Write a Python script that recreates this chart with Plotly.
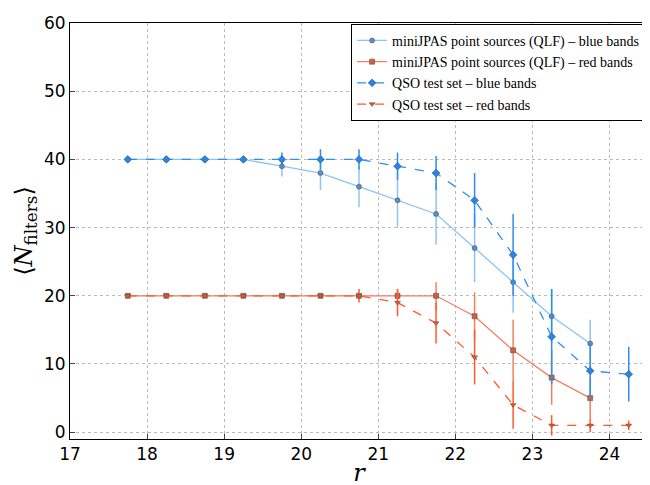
import plotly.graph_objects as go

r = [17.75, 18.25, 18.75, 19.25, 19.75, 20.25, 20.75, 21.25, 21.75, 22.25, 22.75, 23.25, 23.75, 24.25]

qlf_blue = [40, 40, 40, 40, 39, 38, 36, 34, 32, 27, 22, 17, 13]
qlf_blue_err = [0, 0, 0, 0.3, 1.5, 2.5, 3, 4, 4.5, 5, 4.5, 4, 3.5]
qlf_red = [20, 20, 20, 20, 20, 20, 20, 20, 20, 17, 12, 8, 5]
qlf_red_err = [0, 0, 0, 0, 0, 0, 0.5, 1, 2, 3.5, 4.5, 4, 3]

qso_blue = [40, 40, 40, 40, 40, 40, 40, 39, 38, 34, 26, 14, 9, 8.5]
qso_blue_err = [0, 0, 0, 0.5, 1, 1.5, 1.5, 2, 2.5, 4, 6, 7, 4, 4]
qso_red = [20, 20, 20, 20, 20, 20, 20, 19, 16, 11, 4, 1, 1, 1]
qso_red_err = [0, 0, 0, 0, 0, 0, 1, 2, 3, 4, 3.5, 1.5, 1, 0.7]

fig = go.Figure()


def add(y, err, name, color, mcolor, symbol, dash, size):
    fig.add_trace(go.Scatter(
        x=r[:len(y)], y=y, name=name, mode="lines+markers",
        line=dict(color=color, width=1.3, dash=dash),
        marker=dict(symbol=symbol, size=size, color=mcolor, line=dict(color="#555", width=0.6)),
        error_y=dict(type="data", array=err, color=color, thickness=1.5, width=0),
    ))


add(qlf_blue, qlf_blue_err, "miniJPAS point sources (QLF) – blue bands", "#8cc4f5", "#5e8fc0", "circle", "solid", 5)
add(qlf_red, qlf_red_err, "miniJPAS point sources (QLF) – red bands", "#f0805e", "#d0603e", "square", "solid", 5)
add(qso_blue, qso_blue_err, "QSO test set – blue bands", "#2a8ff0", "#1e88f0", "diamond", "dash", 6)
add(qso_red, qso_red_err, "QSO test set – red bands", "#ff5a28", "#ff5020", "triangle-down", "dash", 5)

axis = dict(showgrid=True, gridcolor="#bbb", griddash="dot", showline=True, linecolor="black",
            mirror=True, ticks="inside", ticklen=5, zeroline=False,
            tickfont=dict(size=17, family="DejaVu Sans"))
fig.update_xaxes(range=[17, 24.5], dtick=1, title=dict(text="<i>r</i>", font=dict(size=24), standoff=0), **axis)
fig.update_yaxes(range=[-1, 60], tickvals=[0, 10, 20, 30, 40, 50, 60],
                 title=dict(text="⟨<i>N</i><sub>filters</sub>⟩", font=dict(size=24), standoff=4), **axis)
fig.update_layout(
    width=650, height=485, margin=dict(l=62, r=10, t=15, b=54, autoexpand=False),
    plot_bgcolor="white", paper_bgcolor="white",
    font=dict(family="DejaVu Serif", color="black"),
    legend=dict(x=0.995, y=0.998, xanchor="right", yanchor="top", bordercolor="black", borderwidth=1,
                bgcolor="white", font=dict(size=14, family="Liberation Serif"), tracegroupgap=0),
    showlegend=True,
)
fig.write_html("out.html")
